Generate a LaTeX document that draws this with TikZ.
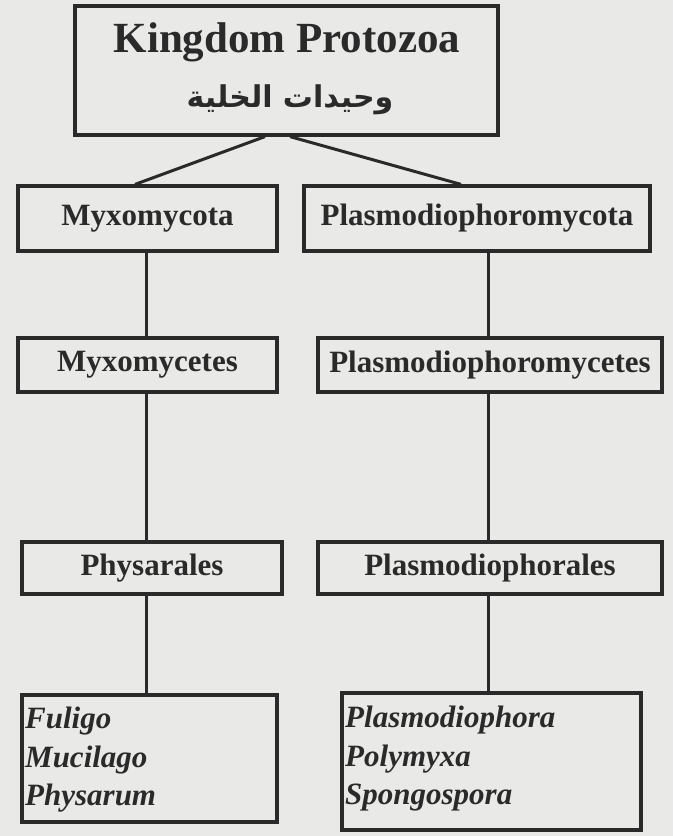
\documentclass[tikz,border=0pt]{standalone}
\usepackage{fontspec}
\setmainfont{Liberation Serif}
\newfontfamily\arabicfont[Script=Arabic]{DejaVu Sans}
\TeXXeTstate=1
\definecolor{paper}{HTML}{E9E9E7}
\definecolor{ink}{HTML}{2A2A2A}
\begin{document}
\begin{tikzpicture}[x=1pt,y=-1pt,
  box/.style={draw=ink, line width=3.2pt, fill=paper, rectangle, inner sep=0pt,
    font=\fontsize{31}{36}\selectfont\bfseries, text=ink},
  genus/.style={anchor=north west, inner sep=0pt, align=left, text=ink,
    font=\fontsize{31}{38.5}\selectfont\bfseries\itshape},
  link/.style={draw=ink, line width=3pt}]
\fill[paper] (0,0) rectangle (673,836);
\useasboundingbox (0,0) rectangle (673,836);
\node[box, minimum width=423pt, minimum height=129pt] (top) at (286.5,70.5) {};
\node[font=\fontsize{43}{48}\selectfont\bfseries, text=ink] (title) at (287,42) {Kingdom Protozoa};
\node[font=\fontsize{30}{34}\arabicfont\bfseries, text=ink] (arabic) at (290,100) {\beginR وحيدات الخلية\endR};
\node[box, minimum width=259pt, minimum height=65pt] (myxota) at (147.5,218.5) {Myxomycota};
\node[box, minimum width=346pt, minimum height=65pt] (plasmota) at (477,218.5) {Plasmodiophoromycota};
\node[box, minimum width=259pt, minimum height=54pt] (myxetes) at (147.5,365) {Myxomycetes};
\node[box, minimum width=344pt, minimum height=54pt] (plasmetes) at (490,365) {Plasmodiophoromycetes};
\node[box, minimum width=260pt, minimum height=52pt] (physarales) at (152,568) {Physarales};
\node[box, minimum width=344pt, minimum height=52pt] (plasmorales) at (490,568) {Plasmodiophorales};
\node[box, minimum width=255pt, minimum height=127pt] (genl) at (149.5,758.5) {};
\node[box, minimum width=299pt, minimum height=137pt] (genr) at (491.5,761.5) {};
\node[genus] (genltext) at (25,707) {Fuligo\\Mucilago\\Physarum};
\node[genus] (genrtext) at (345,706) {Plasmodiophora\\Polymyxa\\Spongospora};
\coordinate (xl) at (146,0);
\coordinate (xr) at (488,0);
\draw[link] ([xshift=-21.5pt]top.south) -- ([xshift=-12.5pt]myxota.north);
\draw[link] ([xshift=3.5pt]top.south) -- ([xshift=-16pt]plasmota.north);
\draw[link] (myxota.south -| xl) -- (myxetes.north -| xl);
\draw[link] (myxetes.south -| xl) -- (physarales.north -| xl);
\draw[link] (physarales.south -| xl) -- (genl.north -| xl);
\draw[link] (plasmota.south -| xr) -- (plasmetes.north -| xr);
\draw[link] (plasmetes.south -| xr) -- (plasmorales.north -| xr);
\draw[link] (plasmorales.south -| xr) -- (genr.north -| xr);
\end{tikzpicture}
\end{document}
